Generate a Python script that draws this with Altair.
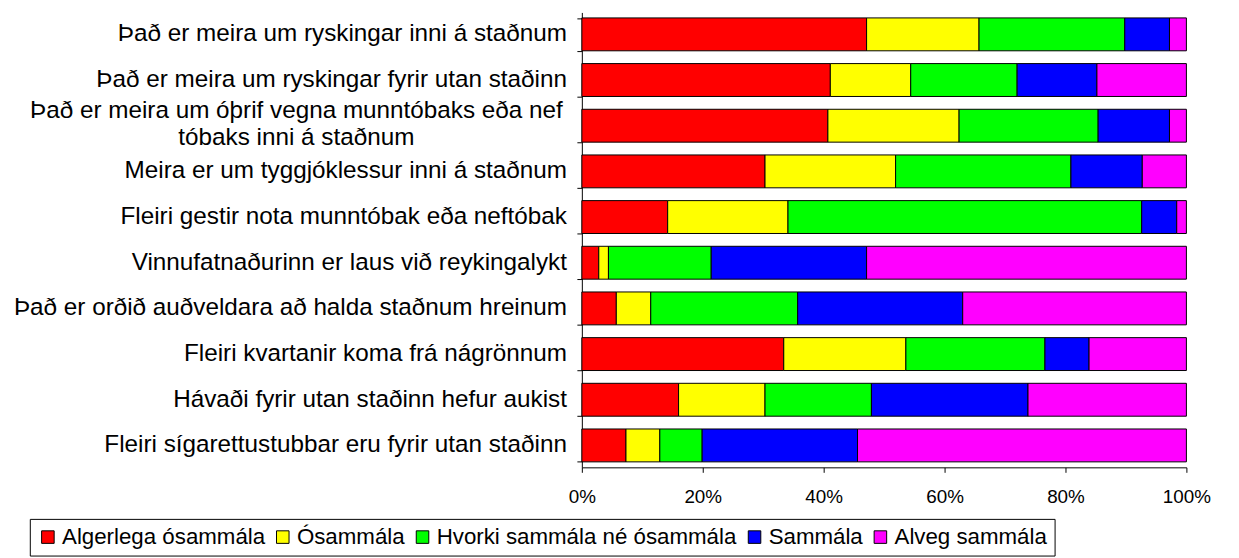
import altair as alt
import pandas as pd

categories = [
    "Það er meira um ryskingar inni á staðnum",
    "Það er meira um ryskingar fyrir utan staðinn",
    "Það er meira um óþrif vegna munntóbaks eða nef|tóbaks inni á staðnum",
    "Meira er um tyggjóklessur inni á staðnum\u00a0",
    "Fleiri gestir nota munntóbak eða neftóbak",
    "Vinnufatnaðurinn er laus við reykingalykt",
    "Það er orðið auðveldara að halda staðnum hreinum",
    "Fleiri kvartanir koma frá nágrönnum",
    "Hávaði fyrir utan staðinn hefur aukist\u00a0",
    "Fleiri sígarettustubbar eru fyrir utan staðinn",
]
series = ["Algerlega ósammála", "Ósammála", "Hvorki sammála né ósammála", "Sammála", "Alveg sammála"]
colors = ["#FF0000", "#FFFF00", "#00FF00", "#0000FF", "#FF00FF"]

v_algerlega = [47.1, 41.1, 40.7, 30.3, 14.2, 2.8, 5.7, 33.4, 16.0, 7.3]
v_osammala = [18.6, 13.3, 21.7, 21.6, 19.9, 1.6, 5.7, 20.2, 14.3, 5.6]
v_hvorki = [24.1, 17.6, 23.0, 29.0, 58.5, 17.0, 24.3, 23.0, 17.6, 7.0]
v_sammala = [7.4, 13.2, 11.8, 11.8, 5.8, 25.7, 27.3, 7.3, 25.9, 25.7]
v_alveg = [2.8, 14.8, 2.8, 7.3, 1.6, 52.9, 37.0, 16.1, 26.2, 54.4]

x_ticks = [0, 0.2, 0.4, 0.6, 0.8, 1.0]

all_vals = [v_algerlega, v_osammala, v_hvorki, v_sammala, v_alveg]
rows = []
for i, c in enumerate(categories):
    for j, s in enumerate(series):
        rows.append({"cat": c, "series": s, "order": j, "value": all_vals[j][i]})
df = pd.DataFrame(rows)

df_single = pd.DataFrame({"cat": [c for c in categories if "|" not in c]})
df_multi = pd.DataFrame({"cat": [c for c in categories if "|" in c]})

FONT = "Liberation Sans"
LABEL_SIZE = 24.5

y_enc = alt.Y(
    "cat:N",
    sort=categories,
    scale=alt.Scale(paddingInner=0.28, paddingOuter=0.12),
    axis=alt.Axis(
        title=None,
        labels=False,
        tickBand="extent",
        tickSize=5,
        tickColor="black",
        domainColor="black",
        minExtent=579,
        maxExtent=579,
    ),
)

bars = alt.Chart(df).mark_bar(stroke="black", strokeWidth=1).encode(
    y=y_enc,
    x=alt.X(
        "value:Q",
        stack="normalize",
        scale=alt.Scale(domain=[0, 1], nice=False),
        axis=alt.Axis(
            title=None,
            format="%",
            values=x_ticks,
            grid=False,
            labelFont=FONT,
            labelFontSize=19,
            labelColor="black",
            labelPadding=15,
            tickSize=5,
            tickColor="black",
            domainColor="black",
            labelFlush=False,
        ),
    ),
    color=alt.Color(
        "series:N",
        sort=series,
        scale=alt.Scale(domain=series, range=colors),
        legend=alt.Legend(
            title=None,
            orient="none",
            direction="horizontal",
            legendX=-557,
            legendY=511,
            symbolType="square",
            symbolSize=160,
            symbolStrokeColor="black",
            symbolStrokeWidth=1,
            labelFont=FONT,
            labelFontSize=22.5,
            labelColor="black",
            labelOffset=3,
            columnPadding=6,
            strokeColor="black",
            padding=7,
            labelLimit=500,
        ),
    ),
    order=alt.Order("order:Q"),
)

labels_single = alt.Chart(df_single).mark_text(
    align="right", baseline="middle", font=FONT, fontSize=LABEL_SIZE, color="black"
).encode(
    y=alt.Y("cat:N", sort=categories),
    x=alt.value(-15),
    text="cat:N",
)

labels_multi = alt.Chart(df_multi).mark_text(
    align="center", baseline="middle", font=FONT, fontSize=LABEL_SIZE, color="black",
    lineBreak="|", lineHeight=27, dy=-15,
).encode(
    y=alt.Y("cat:N", sort=categories),
    x=alt.value(-288),
    text="cat:N",
)

chart = alt.layer(bars, labels_single, labels_multi).properties(
    width=610,
    height=459,
    padding={"left": 0, "top": 2, "right": 20, "bottom": 0},
).configure_view(stroke=None)

chart.save("out.html", embed_options={"renderer": "svg", "actions": False})
